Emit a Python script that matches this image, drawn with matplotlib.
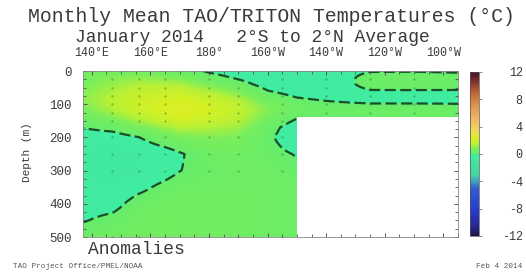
import numpy as np
import matplotlib
matplotlib.use("Agg")
import matplotlib.pyplot as plt
from matplotlib.colors import LinearSegmentedColormap, Normalize
from matplotlib.ticker import MultipleLocator

# ---------------- data ----------------
lons = [137, 147, 156, 165, 170, 180, 190, 200, 210, 220, 235, 250, 265]
depths = [0, 20, 40, 60, 80, 100, 120, 140, 170, 200, 250, 300, 350, 400, 450, 500]
nan = np.nan
col_137E = [0.5, 0.7, 0.8, 0.9, 1.0, 0.9, 0.7, 0.4, 0.03, -0.4, -0.6, -0.6, -0.5, -0.3, -0.05, 0.4]
col_147E = [0.6, 0.9, 1.1, 1.3, 1.5, 1.5, 1.3, 0.9, 0.25, -0.35, -0.7, -0.7, -0.55, -0.25, 0.2, 0.5]
col_156E = [0.6, 1.0, 1.4, 1.7, 1.9, 2.0, 1.9, 1.5, 0.7, -0.02, -0.6, -0.6, -0.2, 0.3, 0.5, 0.6]
col_165E = [0.5, 0.9, 1.4, 1.8, 2.1, 2.3, 2.3, 2.0, 1.2, 0.5, -0.35, -0.3, 0.2, 0.5, 0.6, 0.6]
col_170E = [0.4, 0.8, 1.3, 1.8, 2.2, 2.4, 2.5, 2.3, 1.5, 0.7, -0.08, -0.02, 0.4, 0.5, 0.6, 0.6]
col_180 = [-0.1, 0.3, 0.8, 1.3, 1.8, 2.1, 2.2, 2.0, 1.4, 0.9, 0.4, 0.3, 0.4, 0.5, 0.5, 0.5]
col_170W = [-0.4, -0.1, 0.3, 0.8, 1.3, 1.6, 1.7, 1.6, 1.2, 0.8, 0.5, 0.4, 0.4, 0.5, 0.5, 0.5]
col_160W = [-0.5, -0.5, -0.3, 0.02, 0.4, 0.8, 0.9, 0.7, 0.3, 0.15, 0.25, 0.4, 0.4, 0.4, 0.4, 0.4]
col_150W = [-0.5, -0.6, -0.5, -0.3, 0.0, 0.3, 0.3, 0.05, -0.4, -0.5, -0.05, 0.2, 0.3, 0.3, 0.3, 0.3]
col_140W = [-0.4, -0.6, -0.6, -0.5, -0.15, 0.15, 0.3, 0.2, nan, nan, nan, nan, nan, nan, nan, nan]
col_125W = [-0.05, 0.3, 0.3, -0.05, -0.4, 0.05, 0.3, 0.3, nan, nan, nan, nan, nan, nan, nan, nan]
col_110W = [-0.05, 0.4, 0.35, -0.05, -0.4, 0.05, 0.35, 0.3, nan, nan, nan, nan, nan, nan, nan, nan]
col_95W = [-0.1, 0.3, 0.3, -0.05, -0.3, 0.02, 0.3, 0.3, nan, nan, nan, nan, nan, nan, nan, nan]

sensor_lons_west = [147, 156, 165, 180, 190, 205]
sensor_depths_west = [25, 50, 75, 100, 125, 150, 200, 250, 300, 500]
sensor_lons_east = [220, 235, 250, 265]
sensor_depths_east = [25, 50, 75, 100, 125]

lon_ticks = [140, 160, 180, 200, 220, 240, 260]
lon_labels = ["140°E", "160°E", "180°", "160°W", "140°W", "120°W", "100°W"]
depth_ticks = [0, 100, 200, 300, 400, 500]
cbar_ticks = [12, 8, 4, 0, -4, -8, -12]

# ---------------- field ----------------
anomaly = np.column_stack([col_137E, col_147E, col_156E, col_165E, col_170E, col_180,
                           col_170W, col_160W, col_150W, col_140W, col_125W, col_110W, col_95W])
xg = np.array(lons, float)
yg = np.array(depths, float)
fine_lon = np.linspace(xg[0], xg[-1], 513)
fine_depth = np.linspace(yg[0], yg[-1], 501)


def bilinear(xg, yg, Z, xf, yf):
    ix = np.clip(np.searchsorted(xg, xf, side="right") - 1, 0, len(xg) - 2)
    iy = np.clip(np.searchsorted(yg, yf, side="right") - 1, 0, len(yg) - 2)
    tx = (xf - xg[ix]) / (xg[ix + 1] - xg[ix])
    ty = (yf - yg[iy]) / (yg[iy + 1] - yg[iy])
    IY, IX = np.meshgrid(iy, ix, indexing="ij")
    TY, TX = np.meshgrid(ty, tx, indexing="ij")
    return (Z[IY, IX] * (1 - TX) * (1 - TY) + Z[IY, IX + 1] * TX * (1 - TY)
            + Z[IY + 1, IX] * (1 - TX) * TY + Z[IY + 1, IX + 1] * TX * TY)


field = np.ma.masked_invalid(bilinear(xg, yg, anomaly, fine_lon, fine_depth))

anchors = [
    (-12, (25, 20, 70)), (-10.5, (40, 40, 150)), (-8, (40, 60, 210)), (-5, (50, 95, 205)),
    (-4.2, (60, 150, 190)), (-3, (70, 215, 160)), (-0.001, (64, 238, 160)),
    (0.0, (100, 236, 108)), (0.8, (120, 238, 92)), (1.5, (185, 240, 52)), (2.3, (215, 240, 35)),
    (3.5, (240, 215, 90)), (5, (240, 185, 100)), (7, (225, 150, 80)), (9, (190, 100, 50)),
    (11, (110, 40, 40)), (12, (70, 20, 40)),
]
cmap = LinearSegmentedColormap.from_list(
    "tao", [((v + 12) / 24, tuple(c / 255 for c in rgb)) for v, rgb in anchors], N=512)
norm = Normalize(-12, 12)

# ---------------- figure ----------------
W, H = 526, 274
fig = plt.figure(figsize=(W / 100, H / 100), dpi=100)
mono = "Liberation Mono"
tc = "#3a3a3a"

ax = fig.add_axes([83 / W, 1 - 237 / H, 375 / W, 166 / H])
mesh = ax.pcolormesh(fine_lon, fine_depth, field, cmap=cmap, norm=norm, shading="auto")
ax.contour(fine_lon, fine_depth, field, levels=[0], colors="#1b4f2a",
           linewidths=1.6, linestyles=[(0, (5, 2))])
sx, sy = np.meshgrid(sensor_lons_west, sensor_depths_west)
ax.scatter(sx.ravel(), sy.ravel(), s=3, c="#2a5a30", alpha=0.35, linewidths=0, zorder=3)
sx, sy = np.meshgrid(sensor_lons_east, sensor_depths_east)
ax.scatter(sx.ravel(), sy.ravel(), s=3, c="#2a5a30", alpha=0.35, linewidths=0, zorder=3)

ax.set_xlim(xg[0], xg[-1])
ax.set_ylim(500, 0)
ax.set_xticks(lon_ticks)
ax.set_xticklabels(lon_labels, fontfamily=mono, fontsize=8.4, color=tc)
ax.set_yticks(depth_ticks)
ax.set_yticklabels([str(d) for d in depth_ticks], fontfamily=mono, fontsize=9, color=tc)
ax.xaxis.set_minor_locator(MultipleLocator(5))
ax.yaxis.set_minor_locator(MultipleLocator(25))
ax.tick_params(axis="x", which="both", top=True, bottom=True, labeltop=True,
               labelbottom=False, direction="in", color="#555555", pad=9)
ax.tick_params(axis="y", which="both", left=True, right=True, direction="in",
               color="#555555", pad=8)
ax.tick_params(which="major", length=3, width=0.7)
ax.tick_params(which="minor", length=2, width=0.6)
for s in ax.spines.values():
    s.set_color("#888888")
    s.set_linewidth(0.6)
fig.text(27 / W, 1 - 152 / H, "Depth (m)", rotation=90, ha="center", va="center",
         fontfamily=mono, fontsize=8, color=tc)

cax = fig.add_axes([470 / W, 1 - 236 / H, 9 / W, 164 / H])
cb = fig.colorbar(mesh, cax=cax, ticks=cbar_ticks)
cb.outline.set_linewidth(0.5)
cb.outline.set_edgecolor("#555555")
cax.tick_params(length=2, width=0.5, color="#555555", pad=29.5)
cax.set_yticklabels([str(t) for t in cbar_ticks], ha="right", fontfamily=mono,
                    fontsize=8.5, color=tc)

fig.text(271 / W, 1 - 17 / H, "Monthly Mean TAO/TRITON Temperatures (°C)", ha="center",
         va="center", fontfamily=mono, fontsize=14.2, color=tc)
fig.text(252 / W, 1 - 38 / H, "January 2014   2°S to 2°N Average", ha="center",
         va="center", fontfamily=mono, fontsize=13, color=tc)
fig.text(88 / W, 1 - 249 / H, "Anomalies", ha="left", va="center",
         fontfamily=mono, fontsize=13, color=tc)
fig.text(13 / W, 1 - 266 / H, "TAO Project Office/PMEL/NOAA", ha="left", va="center",
         fontfamily=mono, fontsize=5.5, color="#555555")
fig.text(522 / W, 1 - 267 / H, "Feb 4 2014", ha="right", va="center",
         fontfamily=mono, fontsize=5.5, color="#555555")

fig.savefig("out.png", dpi=100, facecolor="white")
